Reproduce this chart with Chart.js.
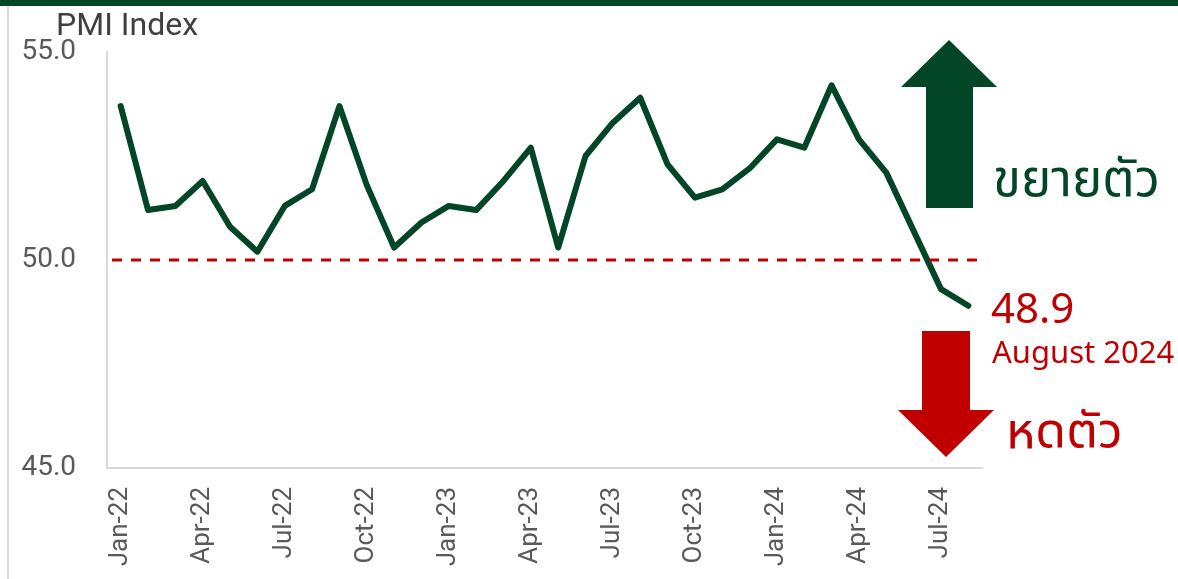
<!DOCTYPE html>
<html><head><meta charset="utf-8">
<script src="https://cdn.jsdelivr.net/npm/chart.js@4/dist/chart.umd.min.js"></script>
<style>html,body{margin:0;padding:0;background:#fff;overflow:hidden}#wrap{width:1178px;height:579px;position:relative}</style>
</head><body><div id="wrap"><canvas id="c" width="1178" height="579"></canvas></div>
<script>
const months = ['Jan-22','Feb-22','Mar-22','Apr-22','May-22','Jun-22','Jul-22','Aug-22','Sep-22','Oct-22','Nov-22','Dec-22',
  'Jan-23','Feb-23','Mar-23','Apr-23','May-23','Jun-23','Jul-23','Aug-23','Sep-23','Oct-23','Nov-23','Dec-23',
  'Jan-24','Feb-24','Mar-24','Apr-24','May-24','Jun-24','Jul-24','Aug-24'];
const pmi = [53.7,51.2,51.3,51.9,50.8,50.2,51.3,51.7,53.7,51.8,50.3,50.9,
  51.3,51.2,51.9,52.7,50.3,52.5,53.3,53.9,52.3,51.5,51.7,52.2,
  52.9,52.7,54.2,52.9,52.1,50.7,49.3,48.9];
const tickEvery = 3;
const yMin = 45, yMax = 55, yStep = 5;
const threshold = 50;
const latestLabel = 'August 2024';
const axisTitle = 'PMI Index';
const upText = 'ขยายตัว';
const downText = 'หดตัว';

const GREEN = '#034527', RED = '#C00000', AXIS = '#D9D9D9', TXT = '#595959';
const THAI = '"Noto Sans Thai","Noto Sans Thai UI","Noto Looped Thai","Sarabun","Loma","Garuda","Norasi","Kinnari","Tlwg Typo","Noto Sans",sans-serif';

const deco = {
  id: 'deco',
  beforeDraw(chart) {
    const ctx = chart.ctx;
    ctx.save();
    ctx.fillStyle = '#fff'; ctx.fillRect(0,0,chart.width,chart.height);
    ctx.fillStyle = GREEN; ctx.fillRect(0,0,chart.width,6);
    ctx.fillStyle = AXIS; ctx.fillRect(7,6,2,chart.height-6);
    ctx.restore();
  },
  afterDatasetsDraw(chart) {
    const ctx = chart.ctx, ca = chart.chartArea, y = chart.scales.y;
    ctx.save();
    // threshold line
    const ty = Math.round(y.getPixelForValue(threshold));
    ctx.strokeStyle = RED; ctx.lineWidth = 3; ctx.setLineDash([10,9]);
    ctx.beginPath(); ctx.moveTo(ca.left+5, ty); ctx.lineTo(ca.right+4, ty); ctx.stroke();
    ctx.setLineDash([]);
    // up arrow
    ctx.fillStyle = GREEN;
    ctx.beginPath();
    ctx.moveTo(949,40); ctx.lineTo(997,87); ctx.lineTo(973,87); ctx.lineTo(973,208);
    ctx.lineTo(926,208); ctx.lineTo(926,87); ctx.lineTo(901,87); ctx.closePath(); ctx.fill();
    // down arrow
    ctx.fillStyle = RED;
    ctx.beginPath();
    ctx.moveTo(922,331); ctx.lineTo(970,331); ctx.lineTo(970,410); ctx.lineTo(994,410);
    ctx.lineTo(946,457); ctx.lineTo(898,410); ctx.lineTo(922,410); ctx.closePath(); ctx.fill();
    // texts
    ctx.textAlign = 'left'; ctx.textBaseline = 'alphabetic';
    ctx.fillStyle = GREEN; ctx.font = '51px ' + THAI;
    ctx.fillText(upText, 993, 196);
    ctx.fillStyle = RED;
    ctx.font = '50px ' + THAI;
    ctx.fillText(downText, 1006, 448);
    ctx.font = '42px "Noto Sans",sans-serif';
    ctx.fillText(pmi[pmi.length-1].toFixed(1), 991, 323);
    ctx.font = '31px "Noto Sans",sans-serif';
    ctx.fillText(latestLabel, 992, 363);
    // axis title
    ctx.fillStyle = '#404040'; ctx.font = '32px Roboto';
    ctx.fillText(axisTitle, 56, 35);
    ctx.restore();
  }
};

new Chart(document.getElementById('c'), {
  type: 'line',
  data: { labels: months, datasets: [{
    data: pmi, borderColor: GREEN, borderWidth: 6, pointRadius: 0, tension: 0,
    borderJoinStyle: 'round', borderCapStyle: 'round', fill: false
  }]},
  options: {
    responsive: false, animation: false, devicePixelRatio: 1,
    layout: { padding: { top: 52, right: 196, left: 0, bottom: 0 } },
    plugins: { legend: { display: false }, tooltip: { enabled: false } },
    scales: {
      x: {
        type: 'category', offset: true,
        grid: { display: false, drawTicks: false },
        border: { color: AXIS, width: 2 },
        ticks: { autoSkip: false, minRotation: 90, maxRotation: 90, padding: 19,
          color: TXT, font: { family: 'Roboto', size: 26 },
          callback: (v, i) => i % tickEvery === 0 ? months[i] : '' },
        afterFit: s => { s.height = 111; }
      },
      y: {
        min: yMin, max: yMax,
        grid: { display: false, drawTicks: false },
        border: { color: AXIS, width: 2 },
        ticks: { stepSize: yStep, padding: 31, color: TXT, font: { family: 'Roboto', size: 28 },
          callback: v => Number(v).toFixed(1) },
        afterFit: s => { s.width = 107; }
      }
    }
  },
  plugins: [deco]
});
</script></body></html>
